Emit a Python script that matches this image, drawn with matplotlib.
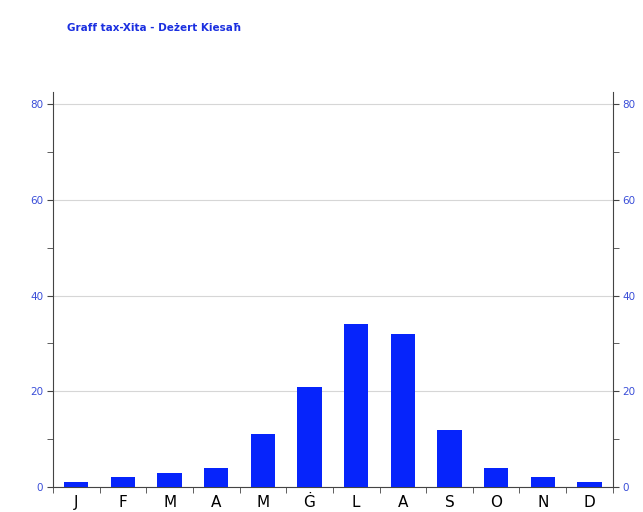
import matplotlib.pyplot as plt
import numpy as np

mesi = ["J", "F", "M", "A", "M", "Ġ", "L", "A", "S", "O", "N", "D"]
xita = [1, 2, 3, 4, 11, 21, 34, 32, 12, 4, 2, 1]
yticks = [0, 20, 40, 60, 80]

fig = plt.figure(figsize=(6.43, 5.12), dpi=100)
ax = fig.add_axes([0.0824, 0.0488, 0.8706, 0.7712])

x = np.arange(len(mesi))
ax.bar(x, xita, width=0.52, color="#0624fb", zorder=3)

ax.set_xlim(-0.5, len(mesi) - 0.5)
ax.set_ylim(0, 82.5)
ax.set_yticks(yticks)
ax.set_yticks([10, 30, 50, 70], minor=True)
ax.yaxis.grid(True, color="#d6d6d6", linewidth=0.8, zorder=0)
ax.tick_params(axis="y", which="both", direction="out", length=4, color="#444444",
               labelsize=7.5, labelcolor="#3a4ed8", right=True, labelright=True)
ax.tick_params(axis="y", which="major", pad=3)

# month labels centred, tick marks at the month boundaries
ax.set_xticks(x)
ax.set_xticklabels(mesi, fontsize=11, color="black")
ax.tick_params(axis="x", which="major", length=0, pad=6)
ax.set_xticks(np.arange(-0.5, len(mesi)), minor=True)
ax.tick_params(axis="x", which="minor", direction="out", length=4, color="#444444")

ax.spines["top"].set_visible(False)
for side in ["left", "right", "bottom"]:
    ax.spines[side].set_color("#444444")

fig.text(0.104, 0.945, "Graff tax-Xita - Deżert Kiesaħ", color="#1a2fe0",
         fontsize=7.5, fontweight="bold", va="center")

fig.savefig("out.png", dpi=100)
